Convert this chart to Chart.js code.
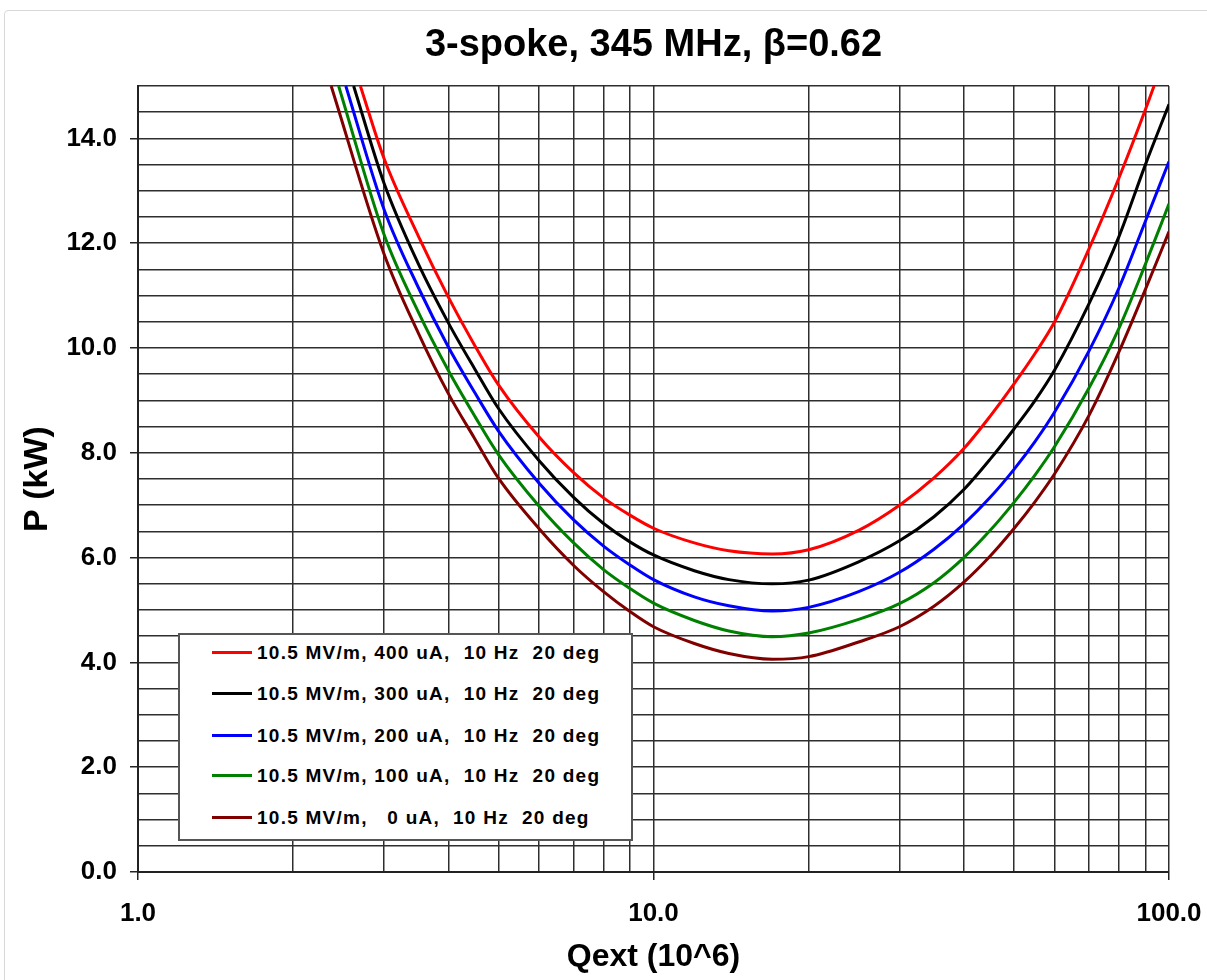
<!DOCTYPE html>
<html>
<head>
<meta charset="utf-8">
<script src="https://cdn.jsdelivr.net/npm/chart.js@4/dist/chart.umd.min.js"></script>
<style>
  body { margin: 0; background: #fff; }
  #wrap { position: relative; width: 1207px; height: 980px; overflow: hidden; }
  #frame { position: absolute; left: 4px; top: 10px; width: 1220px; height: 1000px;
           border: 1px solid #d8d8d8; border-radius: 4px; pointer-events: none; }
  #legend { position: absolute; left: 178px; top: 633px; width: 455px; height: 208px;
            box-sizing: border-box; border: 2px solid #555; background: #fff;
            font: bold 19px "Liberation Sans", Arial, sans-serif; letter-spacing: 1.25px; }
  .row { position: absolute; left: 0; height: 24px; white-space: pre; }
  .row span.swatch { position: absolute; left: 32px; top: 10px; width: 40px; height: 3px; }
  .row span.txt { position: absolute; left: 77px; top: 0; line-height: 24px; }
</style>
</head>
<body>
<div id="wrap">
  <canvas id="chart" width="1207" height="980"></canvas>
  <div id="legend"></div>
  <div id="frame"></div>
</div>
<script>
// Qext (10^6) sample positions shared by all curves
const qext = [3, 3.5, 4, 4.5, 5, 6, 7, 8, 9, 10, 12, 14, 17, 20, 25, 30, 35, 40, 45, 50, 55, 60, 70, 80, 90, 100];

// P (kW)
const p400 = [13.62, 12.13, 10.97, 10.05, 9.30, 8.30, 7.62, 7.14, 6.81, 6.56, 6.28, 6.13, 6.07, 6.15, 6.52, 7.00, 7.52, 8.08, 8.70, 9.31, 9.90, 10.50, 11.90, 13.25, 14.55, 15.80];
const p300 = [13.15, 11.60, 10.48, 9.60, 8.85, 7.85, 7.15, 6.65, 6.30, 6.05, 5.75, 5.58, 5.50, 5.57, 5.92, 6.32, 6.78, 7.30, 7.88, 8.45, 9.00, 9.58, 10.85, 12.13, 13.50, 14.65];
const p200 = [12.65, 11.15, 10.02, 9.15, 8.42, 7.42, 6.72, 6.22, 5.86, 5.58, 5.25, 5.08, 4.98, 5.05, 5.35, 5.72, 6.16, 6.64, 7.15, 7.68, 8.22, 8.78, 9.95, 11.15, 12.42, 13.56];
const p100 = [12.17, 10.68, 9.57, 8.70, 7.97, 6.98, 6.28, 5.77, 5.41, 5.13, 4.80, 4.60, 4.49, 4.56, 4.82, 5.12, 5.52, 6.00, 6.52, 7.05, 7.58, 8.12, 9.24, 10.38, 11.60, 12.75];
const p0   = [11.80, 10.28, 9.13, 8.27, 7.52, 6.55, 5.85, 5.35, 4.97, 4.68, 4.36, 4.17, 4.06, 4.11, 4.39, 4.68, 5.07, 5.53, 6.03, 6.55, 7.07, 7.60, 8.72, 9.93, 11.12, 12.22];

// Qext where each curve leaves the top of the plot (P = 15 kW)
const topQ = [2.70, 2.62, 2.53, 2.45, 2.37];
const pTop = 15;

const seriesLabels = [
  "10.5 MV/m, 400 uA,  10 Hz  20 deg",
  "10.5 MV/m, 300 uA,  10 Hz  20 deg",
  "10.5 MV/m, 200 uA,  10 Hz  20 deg",
  "10.5 MV/m, 100 uA,  10 Hz  20 deg",
  "10.5 MV/m,   0 uA,  10 Hz  20 deg"
];
const seriesValues = [p400, p300, p200, p100, p0];
const seriesColors = ['#ff0000', '#000000', '#0000ff', '#008000', '#800000'];

// Axis ticks
const xGrid = [1, 2, 3, 4, 5, 6, 7, 8, 9, 10, 20, 30, 40, 50, 60, 70, 80, 90, 100];
const xLabelled = [1, 10, 100];
const yStep = 0.5;
const yLabelStep = 2;

const FONT = '"Liberation Sans", Arial, sans-serif';
const gridColor = '#2e2e2e';

// Build the datasets
const datasets = seriesValues.map((vals, s) => {
  const pts = [{ x: topQ[s], y: pTop }];
  qext.forEach((q, i) => pts.push({ x: q, y: vals[i] }));
  return {
    label: seriesLabels[s],
    data: pts,
    showLine: true,
    borderColor: seriesColors[s],
    backgroundColor: seriesColors[s],
    borderWidth: 3,
    pointRadius: 0,
    cubicInterpolationMode: 'monotone',
    fill: false
  };
});

// HTML legend box
const legend = document.getElementById('legend');
const rowTops = [6, 47, 89, 129, 171];
seriesLabels.forEach((label, i) => {
  const row = document.createElement('div');
  row.className = 'row';
  row.style.top = rowTops[i] + 'px';
  row.innerHTML = `<span class="swatch" style="background:${seriesColors[i]}"></span><span class="txt"></span>`;
  row.querySelector('.txt').textContent = label;
  legend.appendChild(row);
});

const ctx = document.getElementById('chart').getContext('2d');
new Chart(ctx, {
  type: 'scatter',
  data: { datasets: datasets },
  options: {
    responsive: false,
    animation: false,
    devicePixelRatio: 1,
    layout: { padding: { left: 0, right: 38, top: 0, bottom: 0 } },
    plugins: {
      legend: { display: false },
      tooltip: { enabled: false },
      title: {
        display: true,
        text: '3-spoke, 345 MHz, \u03b2=0.62',
        color: '#000',
        fullSize: false,
        font: { family: FONT, size: 38, weight: 'bold', lineHeight: 1.2 },
        padding: { top: 23, bottom: 17.4 }
      }
    },
    scales: {
      x: {
        type: 'logarithmic',
        min: 1,
        max: 100,
        afterBuildTicks: scale => { scale.ticks = xGrid.map(v => ({ value: v })); },
        afterFit: scale => {
          scale.height = 108;
          scale.paddingLeft = 0;
          scale.paddingRight = 0;
        },
        border: { color: '#222', width: 2 },
        grid: {
          color: gridColor,
          lineWidth: 1.5,
          tickLength: 8,
          tickColor: c => (c.tick && xLabelled.includes(c.tick.value)) ? '#222' : 'transparent'
        },
        ticks: {
          autoSkip: false,
          maxRotation: 0,
          padding: 18,
          color: '#000',
          font: { family: FONT, size: 26, weight: 'bold' },
          callback: value => xLabelled.includes(value) ? value.toFixed(1) : ''
        },
        title: {
          display: true,
          text: 'Qext (10^6)',
          color: '#000',
          font: { family: FONT, size: 32, weight: 'bold', lineHeight: 1.2 },
          padding: { top: 0, bottom: 4 }
        }
      },
      y: {
        min: 0,
        max: 15,
        afterFit: scale => { scale.width = 138; },
        border: { color: '#222', width: 2 },
        grid: {
          color: gridColor,
          lineWidth: 1.5,
          tickLength: 8,
          tickColor: c => (c.tick && c.tick.value % yLabelStep === 0) ? '#222' : 'transparent'
        },
        ticks: {
          stepSize: yStep,
          autoSkip: false,
          padding: 13,
          color: '#000',
          font: { family: FONT, size: 26, weight: 'bold' },
          callback: value => value % yLabelStep === 0 ? value.toFixed(1) : ''
        },
        title: {
          display: true,
          text: 'P (kW)',
          color: '#000',
          font: { family: FONT, size: 34, weight: 'bold', lineHeight: 1.2 },
          padding: { top: 17, bottom: 0 }
        }
      }
    }
  }
});
</script>
</body>
</html>
